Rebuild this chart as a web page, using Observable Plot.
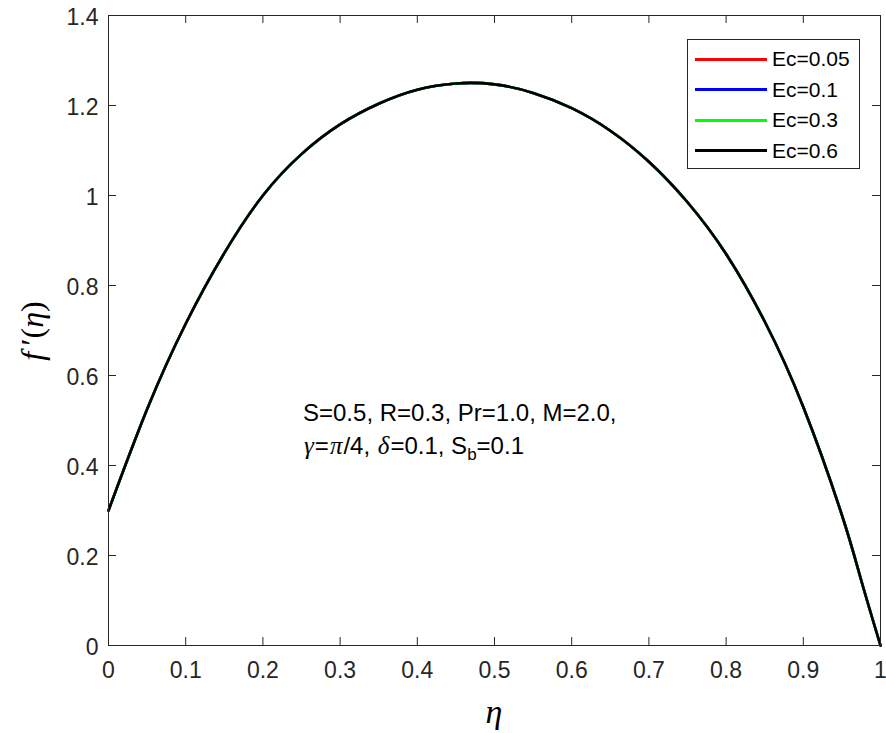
<!DOCTYPE html>
<html>
<head>
<meta charset="utf-8">
<script src="https://cdn.jsdelivr.net/npm/d3@7"></script>
<script src="https://cdn.jsdelivr.net/npm/@observablehq/plot@0.6"></script>
<style>
  html, body { margin: 0; padding: 0; background: #fff; }
  #wrap { position: relative; width: 886px; height: 733px; font-family: "Liberation Sans", Arial, sans-serif; }
  #legend { position: absolute; left: 687px; top: 39px; width: 171px; height: 128px; border: 1px solid #262626; background: #fff; box-sizing: content-box; }
  .lg-row { position: absolute; left: 0; height: 30px; }
  .lg-line { position: absolute; left: 7px; width: 72px; height: 3px; top: -1.5px; }
  .lg-text { position: absolute; left: 84px; top: -13px; font-size: 21px; line-height: 26px; color: #000; white-space: nowrap; }
  #note { position: absolute; left: 303px; top: 396px; font-size: 24px; line-height: 33px; color: #000; white-space: nowrap; }
  #note i { font-family: "Liberation Serif", "Times New Roman", serif; font-size: 25px; padding: 0 1px; }
  #note sub { font-size: 17px; vertical-align: -6px; line-height: 0; }
  .mathlab { position: absolute; font-family: "Liberation Serif", "Times New Roman", serif; color: #000; white-space: nowrap; line-height: 1; }
  #ylab { left: 32px; top: 331px; font-size: 32px; transform: translate(-50%, -50%) rotate(-90deg); }
  #xlab { left: 494px; top: 712px; font-size: 34px; transform: translate(-50%, -50%); }
</style>
</head>
<body>
<div id="wrap"></div>
<script>
// ---- data ----
const eta = [0, 0.05, 0.1, 0.15, 0.2, 0.25, 0.3, 0.35, 0.4, 0.45, 0.5, 0.55, 0.6, 0.65, 0.7, 0.75, 0.8, 0.85, 0.9, 0.95, 0.975, 1];
const fPrime = [0.30, 0.525, 0.715, 0.872, 1.000, 1.092, 1.158, 1.204, 1.235, 1.249, 1.247, 1.228, 1.194, 1.144, 1.075, 0.985, 0.870, 0.720, 0.530, 0.290, 0.145, 0];
const seriesLabels = ["Ec=0.05", "Ec=0.1", "Ec=0.3", "Ec=0.6"];
const seriesColors = ["#ff0000", "#0000ff", "#00ff00", "#000000"];
const xTicks = [0, 0.1, 0.2, 0.3, 0.4, 0.5, 0.6, 0.7, 0.8, 0.9, 1];
const yTicks = [0, 0.2, 0.4, 0.6, 0.8, 1, 1.2, 1.4];

const rows = [];
seriesLabels.forEach(s => eta.forEach((e, i) => rows.push({series: s, eta: e, fp: fPrime[i]})));

const W = 886, H = 733;
const mL = 108, mR = 6, mT = 15, mB = 88;
const fw = W - mL - mR, fh = H - mT - mB;
const ink = "#262626";

const chart = Plot.plot({
  width: W, height: H,
  marginLeft: mL, marginRight: mR, marginTop: mT, marginBottom: mB,
  style: {fontFamily: "'Liberation Sans', Arial, sans-serif", background: "#fff", color: ink},
  x: {domain: [0, 1]},
  y: {domain: [0, 1.4]},
  color: {domain: seriesLabels, range: seriesColors},
  marks: [
    Plot.axisX(xTicks, {anchor: "bottom", tickSize: 0, tickPadding: 16, fontSize: 23, label: null, tickFormat: d => String(d), fill: ink}),
    Plot.axisY(yTicks, {anchor: "left", tickSize: 0, tickPadding: 10, fontSize: 23, label: null, tickFormat: d => String(d), fill: ink, dy: 2}),
    // inward ticks on all four sides
    Plot.tickX(xTicks, {x: d => d, insetTop: fh - 8, stroke: ink, strokeWidth: 1}),
    Plot.tickX(xTicks, {x: d => d, insetBottom: fh - 8, stroke: ink, strokeWidth: 1}),
    Plot.tickY(yTicks, {y: d => d, insetRight: fw - 8, stroke: ink, strokeWidth: 1}),
    Plot.tickY(yTicks, {y: d => d, insetLeft: fw - 8, stroke: ink, strokeWidth: 1}),
    Plot.line(rows, {x: "eta", y: "fp", z: "series", stroke: "series", curve: "natural", strokeWidth: 2.6}),
    Plot.frame({stroke: ink, strokeWidth: 1})
  ]
});

const wrap = document.getElementById("wrap");
wrap.appendChild(chart);

// axis labels (mixed italic / upright as in the reference)
const ylab = document.createElement("div");
ylab.className = "mathlab"; ylab.id = "ylab";
ylab.innerHTML = "<i>f</i>\u2009\u2032(<i>\u03b7</i>)";
wrap.appendChild(ylab);
const xlab = document.createElement("div");
xlab.className = "mathlab"; xlab.id = "xlab";
xlab.innerHTML = "<i>\u03b7</i>";
wrap.appendChild(xlab);

// legend
const legend = document.createElement("div");
legend.id = "legend";
const rowY = [19, 49.6, 80.2, 110.8];
seriesLabels.forEach((s, i) => {
  const r = document.createElement("div");
  r.className = "lg-row";
  r.style.top = rowY[i] + "px";
  const ln = document.createElement("div");
  ln.className = "lg-line";
  ln.style.background = seriesColors[i];
  const tx = document.createElement("div");
  tx.className = "lg-text";
  tx.textContent = s;
  r.appendChild(ln); r.appendChild(tx);
  legend.appendChild(r);
});
wrap.appendChild(legend);

// annotation
const note = document.createElement("div");
note.id = "note";
note.innerHTML = "S=0.5, R=0.3, Pr=1.0, M=2.0,<br><i>\u03b3</i>=<i>\u03c0</i>/4, <i>\u03b4</i>=0.1, S<sub>b</sub>=0.1";
wrap.appendChild(note);
</script>
</body>
</html>
